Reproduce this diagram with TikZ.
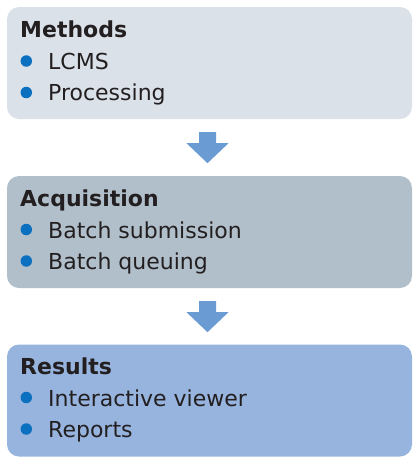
\documentclass[tikz,border=0pt]{standalone}
\usepackage{fontspec}
\setmainfont{DejaVu Sans}
\usetikzlibrary{calc}
\definecolor{boxA}{HTML}{DAE1E8}
\definecolor{boxB}{HTML}{B1BFCA}
\definecolor{boxC}{HTML}{96B4DE}
\definecolor{arrowc}{HTML}{6B9BD3}
\definecolor{bulletc}{HTML}{0C70C0}
\definecolor{textc}{HTML}{231F20}
\tikzset{
  panel/.style={rounded corners=12pt, minimum width=405pt, minimum height=112pt, inner sep=0pt, draw=none},
  head/.style={anchor=base west, inner sep=0pt, text=textc, font=\fontsize{22}{26}\selectfont\bfseries},
  item/.style={anchor=base west, inner sep=0pt, text=textc, font=\fontsize{22}{26}\selectfont},
  dot/.style={circle, fill=bulletc, minimum size=11.5pt, inner sep=0pt},
  blockarrow/.style={fill=arrowc}
}
\begin{document}
\begin{tikzpicture}[x=1pt,y=-1pt]
\useasboundingbox (0,0) rectangle (413,459);
% panels
\node[panel, fill=boxA] (methods) at (209.5,63) {};
\node[panel, fill=boxB] (acq) at (209.5,232) {};
\node[panel, fill=boxC] (res) at (209.5,400.5) {};
% texts
\node[head] (t1) at (20,37.5) {Methods};
\node[item] (t1a) at (48,69.5) {LCMS};
\node[item] (t1b) at (48,100.5) {Processing};
\node[dot] (d1a) at (26.3,61) {};
\node[dot] (d1b) at (26.3,92.5) {};
\node[head] (t2) at (20,206.5) {Acquisition};
\node[item] (t2a) at (48,238) {Batch submission};
\node[item] (t2b) at (48,269) {Batch queuing};
\node[dot] (d2a) at (26.3,229.5) {};
\node[dot] (d2b) at (26.3,261) {};
\node[head] (t3) at (20,374.5) {Results};
\node[item] (t3a) at (48,406) {Interactive viewer};
\node[item] (t3b) at (48,437) {Reports};
\node[dot] (d3a) at (26.3,397.5) {};
\node[dot] (d3b) at (26.3,429) {};
% block arrows between panels
\coordinate (a1) at ($(methods.south)+(-2,0)$);
\coordinate (a2) at ($(acq.south)+(-2,0)$);
\fill[blockarrow] ($(a1)+(-8.5,13)$) -- ($(a1)+(8.5,13)$) -- ($(a1)+(8.5,24)$) -- ($(a1)+(21,24)$) -- ($(a1)+(0,44)$) -- ($(a1)+(-21,24)$) -- ($(a1)+(-8.5,24)$) -- cycle;
\fill[blockarrow] ($(a2)+(-8.5,13)$) -- ($(a2)+(8.5,13)$) -- ($(a2)+(8.5,24)$) -- ($(a2)+(21,24)$) -- ($(a2)+(0,44)$) -- ($(a2)+(-21,24)$) -- ($(a2)+(-8.5,24)$) -- cycle;
\end{tikzpicture}
\end{document}
